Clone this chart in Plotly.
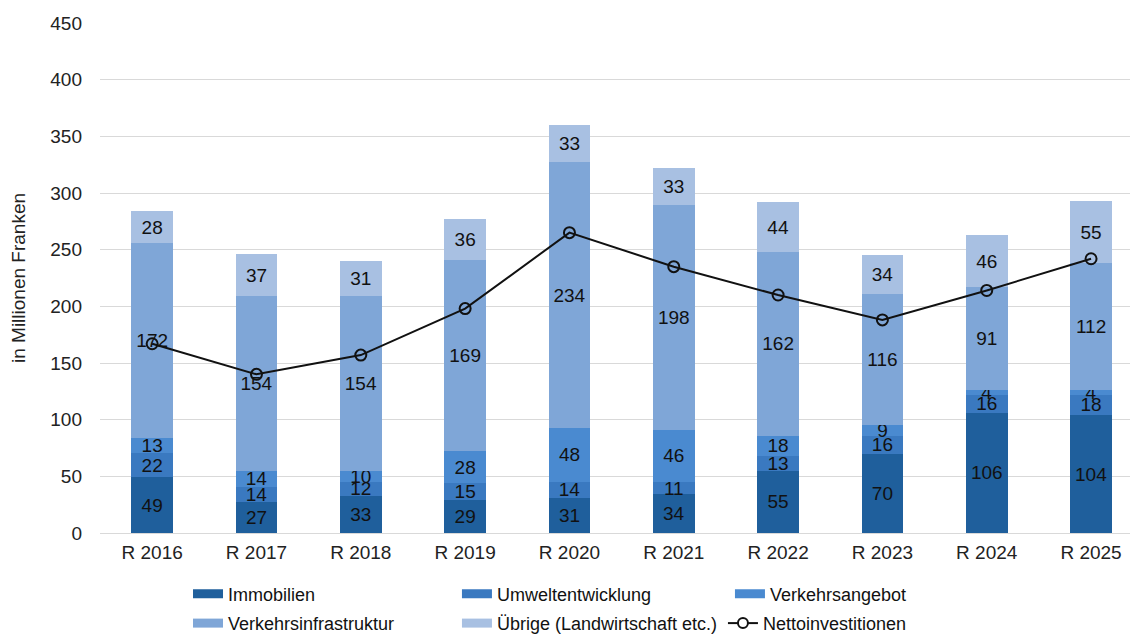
import plotly.graph_objects as go

categories = ["R 2016", "R 2017", "R 2018", "R 2019", "R 2020", "R 2021", "R 2022", "R 2023", "R 2024", "R 2025"]
immobilien = [49, 27, 33, 29, 31, 34, 55, 70, 106, 104]
umwelt = [22, 14, 12, 15, 14, 11, 13, 16, 16, 18]
verkehrsangebot = [13, 14, 10, 28, 48, 46, 18, 9, 4, 4]
infrastruktur = [172, 154, 154, 169, 234, 198, 162, 116, 91, 112]
uebrige = [28, 37, 31, 36, 33, 33, 44, 34, 46, 55]
netto = [167, 140, 157, 198, 265, 235, 210, 188, 214, 242]

series_names = ["Immobilien", "Umweltentwicklung", "Verkehrsangebot",
                "Verkehrsinfrastruktur", "Übrige (Landwirtschaft etc.)"]
series_values = [immobilien, umwelt, verkehrsangebot, infrastruktur, uebrige]
series_colors = ["#1f5f9c", "#3a79c0", "#4a8ad0", "#7fa6d7", "#a8c0e2"]
line_name = "Nettoinvestitionen"

font_main = "Liberation Sans, Arial, sans-serif"

# legend slots (container coordinates): one legend per entry, in Excel's grid
legend_ids = ["legend", "legend2", "legend3", "legend4", "legend5", "legend6"]
legend_pos = [(0.1593, 0.0655), (0.3973, 0.0655), (0.6389, 0.0655),
              (0.1593, 0.0185), (0.3973, 0.0185), (0.6327, 0.0185)]

fig = go.Figure()
for name, vals, color in zip(series_names, series_values, series_colors):
    fig.add_trace(go.Bar(
        name=name, x=categories, y=vals,
        marker=dict(color=color, line=dict(width=0)),
        text=[str(v) for v in vals],
        textposition="inside", insidetextanchor="middle",
        constraintext="none", textangle=0,
        textfont=dict(family=font_main, size=19, color="#111111"),
        showlegend=False,
    ))

fig.add_trace(go.Scatter(
    name=line_name, x=categories, y=netto,
    mode="lines+markers",
    line=dict(color="#111111", width=2),
    marker=dict(symbol="circle", size=11, color="rgba(255,255,255,0)", line=dict(color="#111111", width=2)),
    showlegend=False,
))

# legend-only entries (wide swatches like the original)
for i, (name, color) in enumerate(zip(series_names, series_colors)):
    fig.add_trace(go.Scatter(
        name=name, x=[None], y=[None], mode="lines",
        line=dict(color=color, width=9), legend=legend_ids[i], showlegend=True,
    ))
fig.add_trace(go.Scatter(
    name=line_name, x=[None], y=[None], mode="lines+markers",
    line=dict(color="#111111", width=2),
    marker=dict(symbol="circle", size=10, color="white", line=dict(color="#111111", width=2)),
    legend=legend_ids[5], showlegend=True,
))

layout_legends = {}
for lid, (lx, ly) in zip(legend_ids, legend_pos):
    layout_legends[lid] = dict(
        xref="container", yref="container", x=lx, y=ly,
        xanchor="left", yanchor="middle", orientation="h",
        font=dict(family=font_main, size=18, color="#111111"),
        bgcolor="rgba(0,0,0,0)", borderwidth=0,
    )

fig.update_layout(
    width=1130, height=627,
    barmode="stack", bargap=0.6,
    plot_bgcolor="white", paper_bgcolor="white",
    margin=dict(l=92, r=0, t=15, b=102, autoexpand=False),
    font=dict(family=font_main, size=18, color="#222222"),
    xaxis=dict(range=[-0.5, 9.45], showgrid=False, showline=True, linecolor="#d9d9d9",
               ticks="", ticklabelstandoff=2, tickfont=dict(size=19, color="#222222")),
    yaxis=dict(range=[0, 450], dtick=50, showgrid=True, gridcolor="#d9d9d9", gridwidth=1,
               zeroline=False, ticks="", ticklabelstandoff=17,
               tickfont=dict(size=19, color="#222222"),
               title=dict(text="in Millionen Franken", font=dict(size=19, color="#222222"), standoff=20)),
    **layout_legends,
)

fig.write_html("out.html")
